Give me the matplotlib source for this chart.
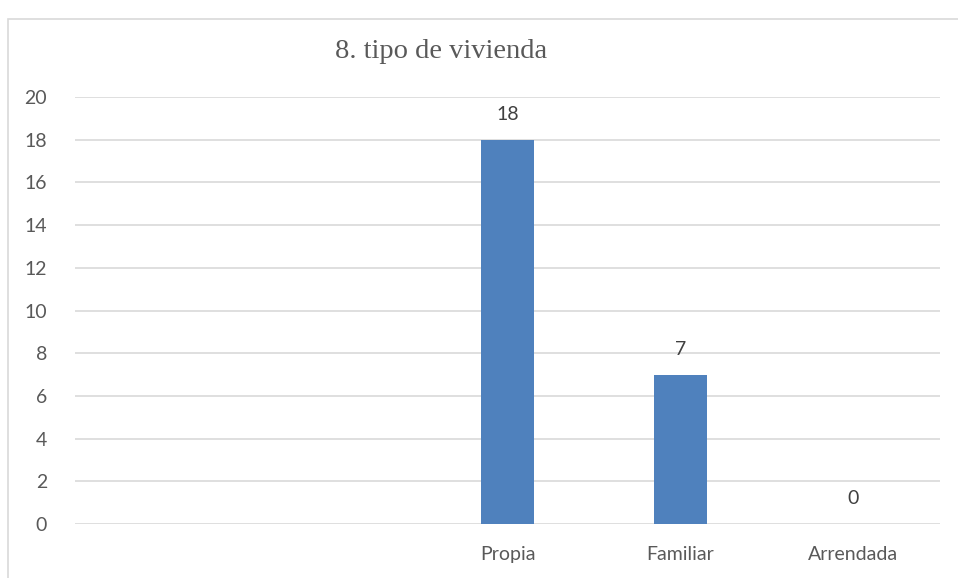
import matplotlib.pyplot as plt
from matplotlib.patches import Rectangle

## data
categories = ["", "", "Propia", "Familiar", "Arrendada"]
values = [None, None, 18, 7, 0]
title = "8. tipo de vivienda"

bar_color = "#4F81BD"
text_color = "#595959"
grid_color = "#D9D9D9"

plt.rcParams["font.family"] = ["Lato", "DejaVu Sans"]

fig = plt.figure(figsize=(9.58, 5.78), dpi=100)
ax = fig.add_axes([75 / 958, 1 - 524 / 578, 865 / 958, 427 / 578])

xs = [i for i, v in enumerate(values) if v is not None]
vs = [v for v in values if v is not None]
ax.bar(xs, vs, width=0.31, color=bar_color, zorder=3)

for x, v in zip(xs, vs):
    ax.annotate(str(v), (x, v), xytext=(0, 12), textcoords="offset points",
                ha="center", va="bottom", fontsize=14, color="#404040")

ax.set_xlim(-0.5, len(categories) - 0.5)
ax.set_ylim(0, 20)
ax.set_yticks(range(0, 21, 2))
ax.set_xticks(range(len(categories)))
ax.set_xticklabels(categories)
ax.yaxis.grid(True, color=grid_color, linewidth=1.2, zorder=0)
ax.tick_params(length=0, labelsize=14, labelcolor=text_color)
ax.tick_params(axis="x", pad=16)
ax.tick_params(axis="y", pad=20)
for s in ax.spines.values():
    s.set_visible(False)

fig.text(441 / 958, 1 - 52 / 578, title, ha="center", va="center",
         fontsize=20.5, color=text_color, family="Liberation Serif")

# chart frame
fig.patches.append(Rectangle((8 / 958, -0.1), 1.2, 1 - 19 / 578 + 0.1,
                             transform=fig.transFigure, fill=False,
                             edgecolor="#D9D9D9", linewidth=1.2))

plt.savefig("out.png")
